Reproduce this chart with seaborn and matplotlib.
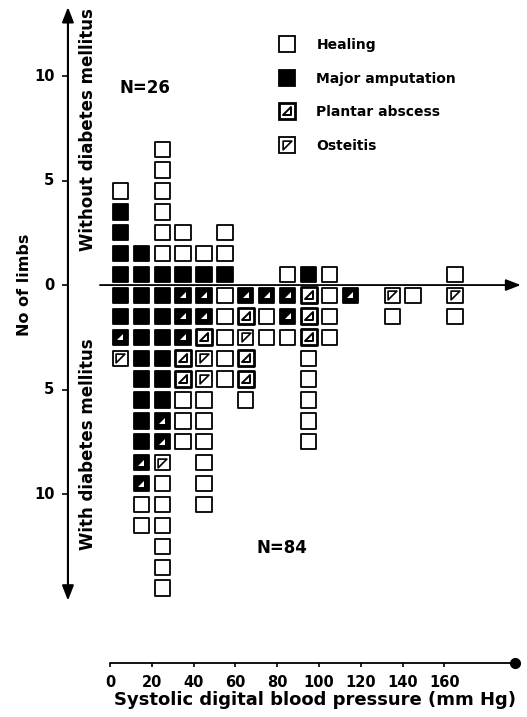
import numpy as np
import pandas as pd
import matplotlib.pyplot as plt
import seaborn as sns
from matplotlib.path import Path
from matplotlib.markers import MarkerStyle
from matplotlib.lines import Line2D
from matplotlib.legend_handler import HandlerTuple

# box codes: W healing, B major amputation, T amputation with abscess mark,
# A plantar abscess, O osteitis  (one string per blood pressure column, from the axis out)
above_bp = [5, 15, 25, 35, 45, 55, 85, 95, 105, 165]
above_boxes = ['BBBBW', 'BB', 'BWWWWWW', 'BWW', 'BW', 'BWW', 'W', 'B', 'W', 'W']
below_bp = [5, 15, 25, 35, 45, 55, 65, 75, 85, 95, 105, 115, 135, 145, 165]
below_boxes = ['BBTO', 'BBBBBBBBTTWW', 'BBBBBBTTOWWWWWW', 'TTTAAWWW', 'TTAOOWWWWWW',
               'WWWWW', 'TAOAAW', 'TWW', 'TTW', 'AAAWWWWW', 'WWW', 'T', 'OW', 'W', 'OW']
y_ticks = [10, 5, 0, -5, -10]
y_ticklabels = ['10', '5', '0', '5', '10']
x_ticks = [0, 20, 40, 60, 80, 100, 120, 140, 160]
n_without = 26
n_with = 84
legend_labels = ['Healing', 'Major amputation', 'Plantar abscess', 'Osteitis']

rows = []
for bp, col in zip(above_bp, above_boxes):
    for i, c in enumerate(col):
        rows.append({'bp': bp, 'limbs': i + 0.5, 'code': c})
for bp, col in zip(below_bp, below_boxes):
    for i, c in enumerate(col):
        rows.append({'bp': bp, 'limbs': -(i + 0.5), 'code': c})
df = pd.DataFrame(rows)

sns.set_style('white')
plt.rcParams['font.family'] = ['DejaVu Sans']
plt.rcParams['text.color'] = 'black'
plt.rcParams['font.weight'] = 'bold'

fig = plt.figure(figsize=(5.27, 7.17), dpi=100)
ax = fig.add_axes([0, 0, 1, 1])
ax.set_xlim(-52.6, 199.5)
ax.set_ylim(-20.67, 13.64)
ax.axis('off')

# triangle markers
tri_lr = MarkerStyle(Path([(-1, -1), (1, -1), (1, 1), (-1, -1)], closed=True))
tri_ul = MarkerStyle(Path([(-1, 1), (1, 1), (-1, -1), (-1, 1)], closed=True))

pal = {'W': 'white', 'B': 'black', 'T': 'black', 'A': 'white', 'O': 'white'}
box_s = 121

# boxes
sns.scatterplot(data=df[df.code != 'A'], x='bp', y='limbs', hue='code', palette=pal,
                marker='s', s=box_s, edgecolor='black', linewidth=1.3, legend=False, ax=ax)
sns.scatterplot(data=df[df.code == 'A'], x='bp', y='limbs', color='white',
                marker='s', s=box_s, edgecolor='black', linewidth=2.0, legend=False, ax=ax)
# inner marks
sns.scatterplot(data=df[df.code == 'T'], x='bp', y='limbs', color='white',
                marker=tri_lr, s=16, linewidth=0, legend=False, ax=ax)
sns.scatterplot(data=df[df.code == 'A'], x='bp', y='limbs', color='white',
                marker=tri_lr, s=40, edgecolor='black', linewidth=1.4, legend=False, ax=ax)
sns.scatterplot(data=df[df.code == 'O'], x='bp', y='limbs', color='white',
                marker=tri_ul, s=40, edgecolor='black', linewidth=1.2, legend=False, ax=ax)

# axes drawn by hand
ax.annotate('', xy=(-20.1, 13.3), xytext=(-20.1, -15.1),
            arrowprops=dict(arrowstyle='<|-|>,head_length=0.9,head_width=0.35',
                            color='black', lw=1.5, shrinkA=0, shrinkB=0))
ax.annotate('', xy=(196.5, 0), xytext=(-4.8, 0),
            arrowprops=dict(arrowstyle='-|>,head_length=0.9,head_width=0.35',
                            color='black', lw=1.3, shrinkA=0, shrinkB=0))
ax.hlines(y_ticks, -22.8, -20.1, color='black', lw=1.2)
for t, lab in zip(y_ticks, y_ticklabels):
    ax.text(-26.5, t, lab, ha='right', va='center', fontsize=10.5)
ax.text(-41, 0, 'No of limbs', rotation=90, ha='center', va='center', fontsize=11.5)
ax.text(-10.5, 7.42, 'Without diabetes mellitus', rotation=90, ha='center', va='center', fontsize=12)
ax.text(-10.5, -7.6, 'With diabetes mellitus', rotation=90, ha='center', va='center', fontsize=12)
ax.text(16.7, 9.43, f'N={n_without}', ha='center', va='center', fontsize=12)
ax.text(82.3, -12.58, f'N={n_with}', ha='center', va='center', fontsize=12)

# bottom blood pressure scale
y_scale = -18.09
ax.plot([0, 193.8], [y_scale, y_scale], color='black', lw=1.3)
ax.plot([193.8], [y_scale], 'o', color='black', ms=7)
ax.vlines(x_ticks, y_scale - 0.2, y_scale, color='black', lw=1.2)
for t in x_ticks:
    ax.text(t, -19.04, str(t), ha='center', va='center', fontsize=10.5)
ax.text(98, -19.86, 'Systolic digital blood pressure (mm Hg)', ha='center', va='center', fontsize=13)

# legend
h_heal = Line2D([], [], ls='', marker='s', ms=11, mfc='white', mec='black', mew=1.3)
h_amp = Line2D([], [], ls='', marker='s', ms=11, mfc='black', mec='black', mew=1.3)
h_abs = (Line2D([], [], ls='', marker='s', ms=11, mfc='white', mec='black', mew=2.0),
         Line2D([], [], ls='', marker=tri_lr, ms=6.3, mfc='white', mec='black', mew=1.4))
h_ost = (Line2D([], [], ls='', marker='s', ms=11, mfc='white', mec='black', mew=1.3),
         Line2D([], [], ls='', marker=tri_ul, ms=6.3, mfc='white', mec='black', mew=1.2))
ax.legend([h_heal, h_amp, h_abs, h_ost], legend_labels,
          handler_map={tuple: HandlerTuple(ndivide=1)},
          loc='upper left', bbox_to_anchor=(0.508, 0.964), frameon=False,
          fontsize=10, labelspacing=1.4, handlelength=1.0, handletextpad=1.6)

plt.savefig('out.png', dpi=100)
